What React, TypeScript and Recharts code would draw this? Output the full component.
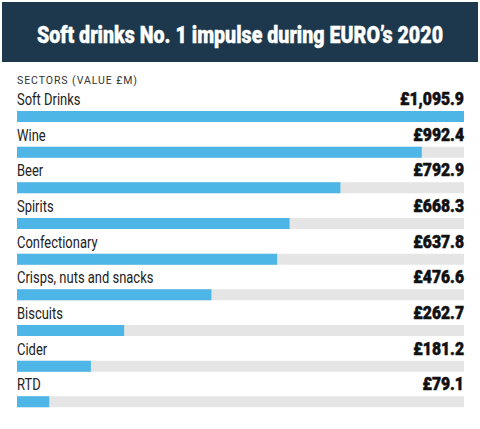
import React from "react";
import { Bar, BarChart, LabelList, XAxis, YAxis } from "recharts";

const SECTORS = [
  "Soft Drinks",
  "Wine",
  "Beer",
  "Spirits",
  "Confectionary",
  "Crisps, nuts and snacks",
  "Biscuits",
  "Cider",
  "RTD",
];
const VALUES = [1095.9, 992.4, 792.9, 668.3, 637.8, 476.6, 262.7, 181.2, 79.1];

const data = SECTORS.map((name, i) => ({ name, value: VALUES[i] }));

const W = 480;
const H = 429;
const MARGIN = { top: 99, right: 16, bottom: 9, left: 17 };
const PLOT_RIGHT = W - MARGIN.right;
const FONT = "Roboto, 'Noto Sans', sans-serif";

function fmt(v: number) {
  return "£" + v.toLocaleString("en-GB", { minimumFractionDigits: 1, maximumFractionDigits: 1 });
}

// name on the left, value on the right, both sitting just above the bar
function RowLabel(props: any) {
  const { x, y, index, value } = props;
  return (
    <g>
      <text
        transform={`translate(${x} ${y - 6}) scale(0.81 1)`}
        fill="#222"
        fontSize={16}
        fontFamily={FONT}
      >
        {SECTORS[index]}
      </text>
      <text
        transform={`translate(${PLOT_RIGHT} ${y - 6}) scale(0.9 1)`}
        fill="#111"
        stroke="#111"
        strokeWidth={0.5}
        fontSize={17.5}
        fontWeight={900}
        fontFamily={FONT}
        textAnchor="end"
      >
        {fmt(value)}
      </text>
    </g>
  );
}

export default function App() {
  return (
    <div
      style={{
        position: "absolute",
        left: 0,
        top: 0,
        width: W,
        height: H,
        background: "#fff",
        overflow: "hidden",
      }}
    >
      <svg width={W} height={H} style={{ position: "absolute", left: 0, top: 0 }}>
        <rect x={2} y={2} width={476} height={60} fill="#1d384c" />
        <text
          transform="translate(240 43) scale(0.855 1)"
          fill="#fff"
          stroke="#fff"
          strokeWidth={0.4}
          fontSize={23}
          fontWeight={900}
          fontFamily={FONT}
          textAnchor="middle"
        >
          Soft drinks No. 1 impulse during EURO’s 2020
        </text>
        <text
          x={17}
          y={84}
          fill="#333"
          fontSize={10.5}
          fontFamily={FONT}
          textLength={120}
          lengthAdjust="spacing"
        >
          SECTORS (VALUE £M)
        </text>
      </svg>
      <div style={{ position: "absolute", left: 0, top: 0 }}>
        <BarChart width={W} height={H} data={data} layout="vertical" margin={MARGIN}>
          <XAxis type="number" domain={[0, "dataMax"]} hide />
          <YAxis type="category" dataKey="name" hide />
          <Bar
            dataKey="value"
            fill="#4db6e6"
            barSize={11}
            background={{ fill: "#e5e5e5" }}
            isAnimationActive={false}
          >
            <LabelList dataKey="value" content={RowLabel} />
          </Bar>
        </BarChart>
      </div>
    </div>
  );
}
